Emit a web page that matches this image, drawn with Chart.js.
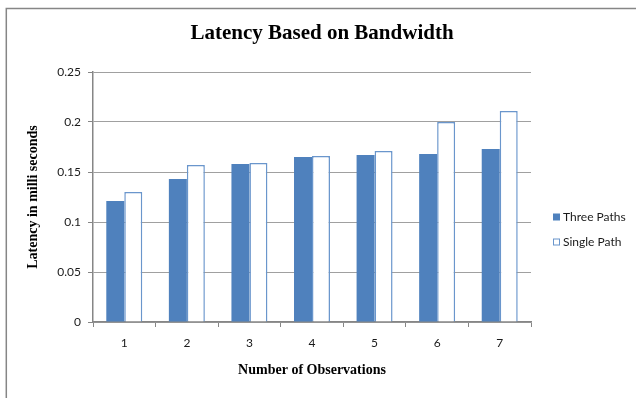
<!DOCTYPE html>
<html>
<head>
<meta charset="utf-8">
<script src="https://cdn.jsdelivr.net/npm/chart.js@4/dist/chart.umd.min.js"></script>
<style>
  html, body { margin: 0; padding: 0; background: #ffffff; }
  #wrap { position: relative; width: 636px; height: 398px; }
</style>
</head>
<body>
<div id="wrap"><canvas id="chart" width="636" height="398"></canvas></div>
<script>
// Observation numbers along the x axis
const observations = ['1', '2', '3', '4', '5', '6', '7'];
// Latency (ms) for each observation
const threePaths = [0.121, 0.143, 0.158, 0.165, 0.167, 0.168, 0.173];
const singlePath = [0.130, 0.157, 0.159, 0.166, 0.171, 0.200, 0.211];
// Value axis ticks
const yTicks = [0, 0.05, 0.1, 0.15, 0.2, 0.25];
const seriesNames = ['Three Paths', 'Single Path'];
const chartTitle = 'Latency Based on Bandwidth';

const FILL_BLUE = '#4F81BD';
const EDGE_BLUE = '#6A96CC';
const GRID = '#A0A0A0';
const AXIS = '#868686';
const LABEL_FONT = 'Lato, "Open Sans", sans-serif';
const SERIF = '"Liberation Serif", "DejaVu Serif", serif';

// Frame around the chart (top and left edges) and the centred heading
const framePlugin = {
  id: 'frame',
  beforeDraw(chart) {
    const ctx = chart.ctx;
    ctx.save();
    ctx.strokeStyle = AXIS;
    ctx.lineWidth = 1.5;
    ctx.beginPath();
    ctx.moveTo(6.3, 398);
    ctx.lineTo(6.3, 8.5);
    ctx.lineTo(636, 8.5);
    ctx.stroke();
    ctx.fillStyle = '#000000';
    ctx.font = 'bold 21px ' + SERIF;
    ctx.textAlign = 'center';
    ctx.textBaseline = 'middle';
    ctx.fillText(chartTitle, 322, 34);
    ctx.restore();
  }
};

// Legend on the right side of the plot
const sideLegend = {
  id: 'sideLegend',
  afterDraw(chart) {
    const ctx = chart.ctx;
    const x = 553, rows = [217, 242], box = 7;
    ctx.save();
    ctx.font = '12px ' + LABEL_FONT;
    ctx.textBaseline = 'middle';
    ctx.textAlign = 'left';
    chart.data.datasets.forEach((ds, i) => {
      const y = rows[i];
      if (i === 0) {
        ctx.fillStyle = ds.backgroundColor;
        ctx.fillRect(x, y - box / 2, box, box);
      } else {
        ctx.fillStyle = '#ffffff';
        ctx.fillRect(x, y - box / 2, box, box);
        ctx.strokeStyle = ds.borderColor;
        ctx.lineWidth = 1;
        ctx.strokeRect(x + 0.5, y - box / 2 + 0.5, box - 1, box - 1);
      }
      ctx.fillStyle = '#1a1a1a';
      ctx.fillText(ds.label, x + 10, y);
    });
    ctx.restore();
  }
};

new Chart(document.getElementById('chart'), {
  type: 'bar',
  data: {
    labels: observations,
    datasets: [
      {
        label: seriesNames[0],
        data: threePaths,
        backgroundColor: FILL_BLUE,
        borderWidth: 0,
        barPercentage: 1,
        categoryPercentage: 0.575
      },
      {
        label: seriesNames[1],
        data: singlePath,
        backgroundColor: '#ffffff',
        borderColor: EDGE_BLUE,
        borderWidth: 1.5,
        borderSkipped: 'bottom',
        barPercentage: 1,
        categoryPercentage: 0.575
      }
    ]
  },
  options: {
    responsive: false,
    animation: false,
    devicePixelRatio: 1,
    layout: { padding: { left: 0, right: 105, top: 72, bottom: 0 } },
    plugins: {
      legend: { display: false },
      tooltip: { enabled: false },
      title: { display: false }
    },
    scales: {
      x: {
        grid: {
          display: true,
          drawOnChartArea: false,
          drawTicks: true,
          tickLength: 5,
          color: AXIS,
          offset: true
        },
        border: { display: true, color: AXIS, width: 1.5 },
        ticks: {
          color: '#1a1a1a',
          font: { family: LABEL_FONT, size: 12 },
          padding: 9,
          maxRotation: 0
        },
        title: {
          display: true,
          text: 'Number of Observations',
          color: '#000000',
          font: { family: SERIF, size: 14, weight: 'bold' },
          padding: { top: 0, bottom: 19 }
        },
        afterFit(scale) { scale.height = 76; }
      },
      y: {
        min: yTicks[0],
        max: yTicks[yTicks.length - 1],
        afterBuildTicks(scale) { scale.ticks = yTicks.map(v => ({ value: v })); },
        grid: {
          color: GRID,
          lineWidth: 1,
          drawTicks: true,
          tickLength: 5,
          tickColor: AXIS
        },
        border: { display: true, color: AXIS, width: 1.5 },
        ticks: {
          color: '#1a1a1a',
          font: { family: LABEL_FONT, size: 12 },
          padding: 7,
          callback: v => String(+Number(v).toFixed(2))
        },
        title: {
          display: true,
          text: 'Latency in milli seconds',
          color: '#000000',
          font: { family: SERIF, size: 14, weight: 'bold' },
          padding: { top: 25, bottom: 0 }
        },
        afterFit(scale) { scale.width = 93; }
      }
    }
  },
  plugins: [framePlugin, sideLegend]
});
</script>
</body>
</html>
